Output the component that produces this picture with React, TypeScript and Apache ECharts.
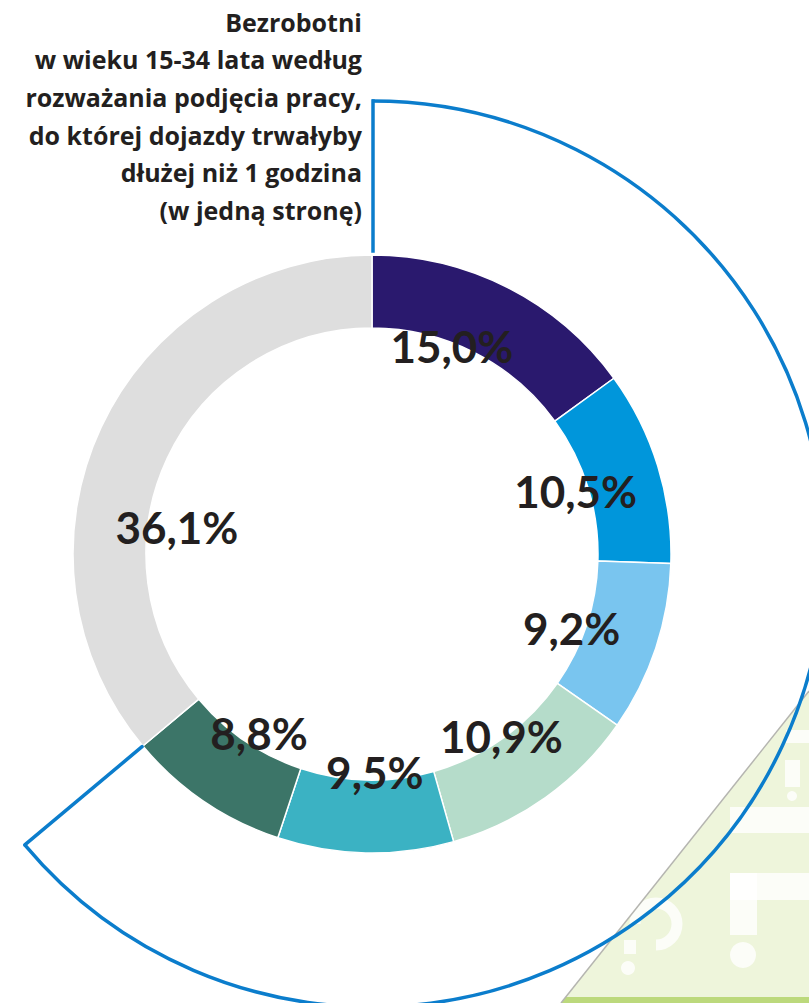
import React, { useEffect, useRef } from 'react';
import * as echarts from 'echarts';

const titleLines = [
  'Bezrobotni',
  'w wieku 15-34 lata według',
  'rozważania podjęcia pracy,',
  'do której dojazdy trwałyby',
  'dłużej niż 1 godzina',
  '(w jedną stronę)',
];
const categories = ['Segment 1', 'Segment 2', 'Segment 3', 'Segment 4', 'Segment 5', 'Segment 6', 'Pozostali'];
const values = [15.0, 10.5, 9.2, 10.9, 9.5, 8.8, 36.1];
const colors = ['#2a196e', '#0096db', '#79c5ef', '#b5dcca', '#3bb2c3', '#3c7568', '#dedede'];
const highlightedCount = 6;

// label placement tweaks (styling)
const labelRadius = [223, 213, 213, 223, 218, 212, 197];
const labelAngleShift = [-6, 0, 2, 0, -2, -2, -17];

const CX = 372;
const CY = 554;
const R0 = 226;
const R1 = 299;
const OUT_R = 453;

const fmt = (v: number) => v.toFixed(1).replace('.', ',') + '%';

export default function App() {
  const ref = useRef<HTMLDivElement>(null);
  useEffect(() => {
    if (!ref.current) return;
    const chart = echarts.init(ref.current, undefined, { renderer: 'svg' });
    const total = values.reduce((a, b) => a + b, 0);
    const cum: number[] = [];
    let acc = 0;
    values.forEach((v) => {
      cum.push(acc);
      acc += v;
    });
    const highlightedFrac = values.slice(0, highlightedCount).reduce((a, b) => a + b, 0) / total;
    const endA = -Math.PI / 2 + highlightedFrac * Math.PI * 2;
    const blue = '#0b7dcc';
    const wm = 'rgba(255,255,255,0.8)';

    chart.setOption({
      animation: false,
      backgroundColor: '#ffffff',
      graphic: [
        {
          type: 'polygon',
          z: 0,
          shape: { points: [[809, 691], [561, 1003], [809, 1003]] },
          style: { fill: '#eef5db' },
        },
        { type: 'rect', z: 1, shape: { x: 786, y: 730, width: 30, height: 13 }, style: { fill: wm } },
        { type: 'rect', z: 1, shape: { x: 785, y: 760, width: 15, height: 27 }, style: { fill: wm } },
        { type: 'circle', z: 1, shape: { cx: 792, cy: 796, r: 5 }, style: { fill: wm } },
        { type: 'rect', z: 1, shape: { x: 730, y: 807, width: 90, height: 26 }, style: { fill: wm } },
        { type: 'rect', z: 1, shape: { x: 730, y: 873, width: 90, height: 27 }, style: { fill: wm } },
        { type: 'rect', z: 1, shape: { x: 730, y: 873, width: 27, height: 62 }, style: { fill: wm } },
        { type: 'circle', z: 1, shape: { cx: 743, cy: 955, r: 13 }, style: { fill: wm } },
        {
          type: 'arc', z: 1,
          shape: { cx: 656, cy: 924, r: 21, startAngle: Math.PI, endAngle: Math.PI / 2, clockwise: true },
          style: { stroke: wm, lineWidth: 11, fill: 'none' },
        },
        { type: 'rect', z: 1, shape: { x: 624, y: 940, width: 12, height: 14 }, style: { fill: wm } },
        { type: 'circle', z: 1, shape: { cx: 628, cy: 968, r: 7 }, style: { fill: wm } },
        {
          type: 'polygon', z: 1,
          shape: { points: [[566, 997], [809, 997], [809, 1003], [561, 1003]] },
          style: { fill: '#bcd97c' },
        },
        {
          type: 'line', z: 2,
          shape: { x1: 809, y1: 691, x2: 561, y2: 1003 },
          style: { stroke: '#b5b5b0', lineWidth: 1.5 },
        },
        {
          type: 'line', z: 20,
          shape: { x1: CX + 1, y1: CY - R1 - 4, x2: CX + 1, y2: CY - OUT_R },
          style: { stroke: blue, lineWidth: 3.5, lineCap: 'square' },
        },
        {
          type: 'arc', z: 20,
          shape: { cx: CX, cy: CY, r: OUT_R, startAngle: -Math.PI / 2, endAngle: endA, clockwise: true },
          style: { stroke: blue, lineWidth: 3.5, fill: 'none' },
        },
        {
          type: 'line', z: 20,
          shape: {
            x1: CX + OUT_R * Math.cos(endA), y1: CY + OUT_R * Math.sin(endA),
            x2: CX + (R1 + 1) * Math.cos(endA), y2: CY + (R1 + 1) * Math.sin(endA),
          },
          style: { stroke: blue, lineWidth: 3.5, lineCap: 'round' },
        },
        {
          type: 'text', z: 20,
          style: {
            text: titleLines.join('\n'),
            x: 362, y: 3,
            align: 'right', textAlign: 'right',
            verticalAlign: 'top', textVerticalAlign: 'top',
            font: 'bold 25px "Open Sans"',
            lineHeight: 37.6,
            fill: '#231f20',
          },
        },
      ],
      series: [
        {
          type: 'pie',
          center: [CX, CY],
          radius: [R0, R1],
          startAngle: 90,
          clockwise: true,
          z: 5,
          itemStyle: { borderColor: '#ffffff', borderWidth: 1.5 },
          label: {
            show: true,
            position: 'inside',
            formatter: (p: any) => fmt(p.value),
            fontFamily: 'Lato',
            fontWeight: 'bold',
            fontSize: 44,
            color: '#231f20',
          },
          labelLine: { show: false },
          labelLayout: (params: any) => {
            const i = params.dataIndex;
            const a = ((cum[i] + values[i] / 2) / total) * Math.PI * 2 + (labelAngleShift[i] * Math.PI) / 180;
            const r = labelRadius[i];
            return {
              x: CX + r * Math.sin(a),
              y: CY - r * Math.cos(a),
              align: 'center',
              verticalAlign: 'middle',
            };
          },
          emphasis: { disabled: true },
          data: values.map((v, i) => ({
            name: categories[i],
            value: v,
            itemStyle: { color: colors[i] },
          })),
        },
      ],
    });
    return () => chart.dispose();
  }, []);
  return (
    <div
      ref={ref}
      style={{ position: 'absolute', left: 0, top: 0, width: 809, height: 1003 }}
    />
  );
}
